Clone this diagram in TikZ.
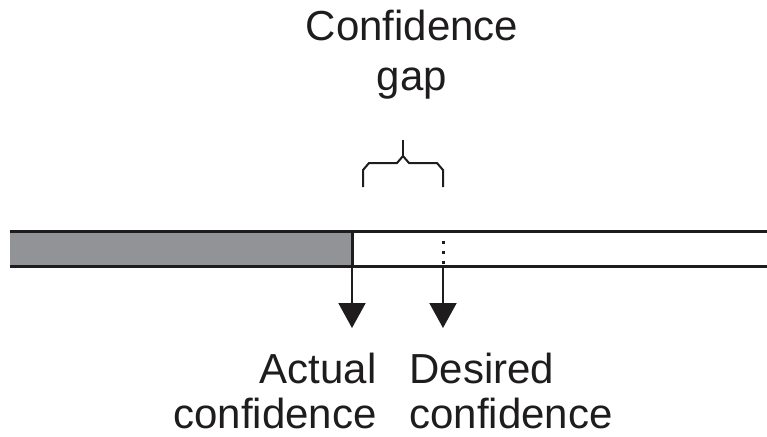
\documentclass[tikz,border=0pt]{standalone}
\usepackage{fontspec}
\setmainfont{Liberation Sans}
\usetikzlibrary{arrows.meta}
\definecolor{barfill}{RGB}{146,147,151}
\definecolor{ink}{RGB}{30,28,28}

\begin{document}
\begin{tikzpicture}[x=0.5pt,y=-0.5pt,
  every node/.style={inner sep=0pt,text=ink},
  labeltext/.style={font=\fontsize{21}{22.5}\selectfont,text depth=0pt},
  pointer/.style={draw=ink,line width=1pt,-{Triangle[length=12.5pt,width=13.5pt]}}]
  \useasboundingbox (0,0) rectangle (767,436);
  % the bar, filled up to the actual level
  \fill[barfill] (10,231.5) rectangle (352,266);
  \draw[ink,line width=1.5pt] (10,231.5) -- (767,231.5) (10,266) -- (767,266);
  \draw[ink,line width=1.5pt] (352,231.5) -- (352,266);
  \draw[ink,line width=1.5pt,dash pattern=on 1.5pt off 3.5pt] (443,240.5) -- (443,266);
  % brace over the gap
  \draw[ink,line width=1pt] (363,187) -- (363,170) -- (369,163) -- (397,163) -- (403,156)
    -- (409,163) -- (437,163) -- (443,170) -- (443,187);
  \draw[ink,line width=1pt] (403,156) -- (403,140);
  \node[font=\fontsize{21}{25}\selectfont,align=center,anchor=north] (gap) at (412,10) {Confidence\\gap};
  % pointers to the two levels
  \coordinate (actualbase) at (352,266);
  \coordinate (actualtip) at (352,328);
  \coordinate (desiredbase) at (443,266);
  \coordinate (desiredtip) at (443,328);
  \draw[pointer] (actualbase) -- (actualtip);
  \draw[pointer] (desiredbase) -- (desiredtip);
  \node[labeltext,align=right,anchor=north east] (actual) at (377,353) {Actual\\confidence};
  \node[labeltext,align=left,anchor=north west] (desired) at (409,353) {Desired\\confidence};
\end{tikzpicture}
\end{document}
